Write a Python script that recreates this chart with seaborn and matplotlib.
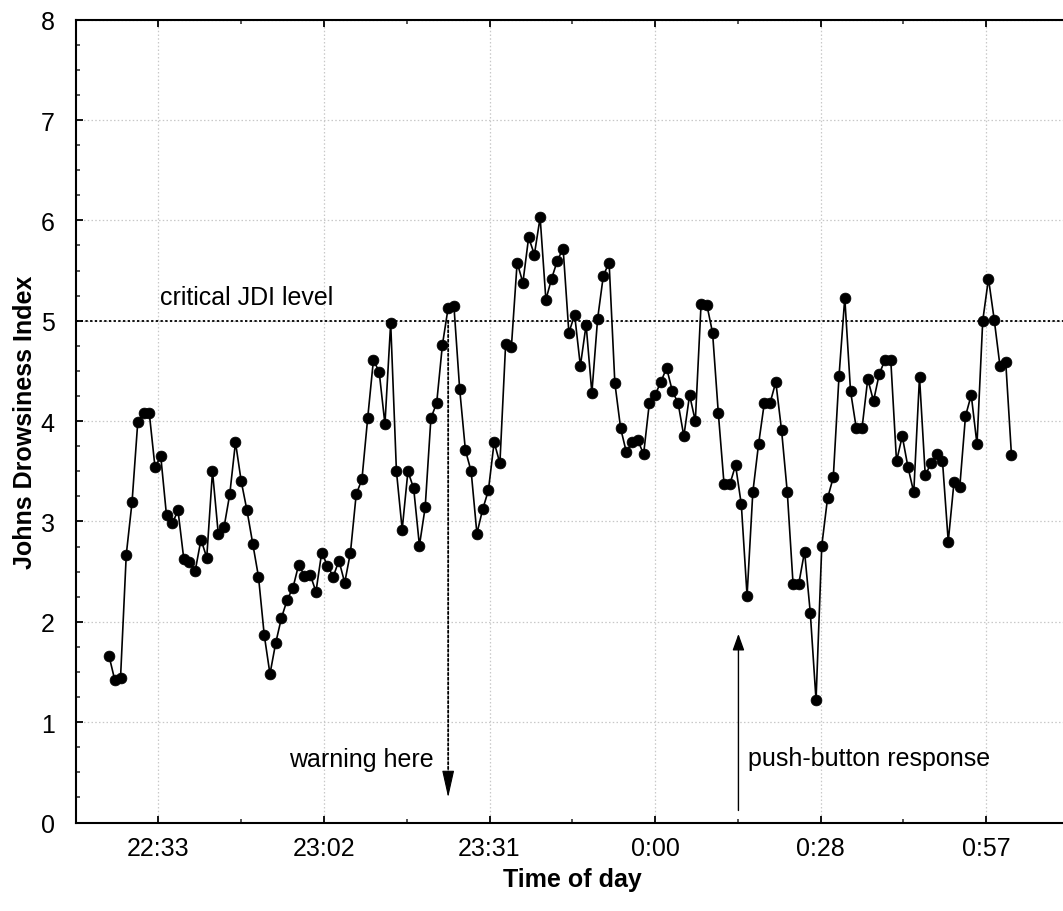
import numpy as np
import pandas as pd
import matplotlib
matplotlib.use("Agg")
import matplotlib.pyplot as plt
from matplotlib.ticker import FixedLocator, MultipleLocator
import seaborn as sns

# ---- data ----
start_minute = 1345          # 22:25, one sample per minute
jdi_values = [
    1.66, 1.42, 1.44, 2.67, 3.19, 3.99, 4.08, 4.08, 3.54, 3.65,
    3.06, 2.98, 3.11, 2.63, 2.60, 2.51, 2.82, 2.64, 3.50, 2.88,
    2.94, 3.27, 3.79, 3.40, 3.11, 2.78, 2.45, 1.87, 1.48, 1.79,
    2.04, 2.22, 2.34, 2.57, 2.46, 2.47, 2.30, 2.69, 2.56, 2.45,
    2.61, 2.39, 2.69, 3.27, 3.42, 4.03, 4.61, 4.49, 3.97, 4.98,
    3.50, 2.92, 3.50, 3.33, 2.76, 3.14, 4.03, 4.18, 4.76, 5.13,
    5.15, 4.32, 3.71, 3.50, 2.88, 3.12, 3.31, 3.79, 3.58, 4.77,
    4.74, 5.58, 5.38, 5.83, 5.66, 6.03, 5.21, 5.42, 5.60, 5.72,
    4.88, 5.06, 4.55, 4.96, 4.28, 5.02, 5.45, 5.58, 4.38, 3.93,
    3.69, 3.79, 3.81, 3.67, 4.18, 4.26, 4.39, 4.53, 4.30, 4.18,
    3.85, 4.26, 4.00, 5.17, 5.16, 4.88, 4.08, 3.37, 3.37, 3.56,
    3.17, 2.26, 3.29, 3.77, 4.18, 4.18, 4.39, 3.91, 3.29, 2.38,
    2.38, 2.70, 2.09, 1.22, 2.76, 3.23, 3.44, 4.45, 5.23, 4.30,
    3.93, 3.93, 4.42, 4.20, 4.47, 4.61, 4.61, 3.60, 3.85, 3.54,
    3.29, 4.44, 3.46, 3.58, 3.67, 3.60, 2.80, 3.39, 3.34, 4.05,
    4.26, 3.77, 5.00, 5.42, 5.01, 4.55, 4.59, 3.66,
]
tick_positions = [0.94, 0.96, 0.98, 1.00, 1.02, 1.04]   # fraction of a day
tick_labels = ["22:33", "23:02", "23:31", "0:00", "0:28", "0:57"]
critical_level = 5.0
warning_minute = 1404
push_minute = 1454.5

minutes = start_minute + np.arange(len(jdi_values))
df = pd.DataFrame({"day": minutes / 1440.0, "jdi": jdi_values})

# ---- style ----
sns.set_style("white")
plt.rcParams["font.family"] = ["Liberation Sans", "DejaVu Sans"]
plt.rcParams["text.color"] = "black"
plt.rcParams["axes.labelcolor"] = "black"
FS = 18

fig = plt.figure(figsize=(10.63, 9.12), dpi=100)
ax = fig.add_axes([0.0712, 0.097, 0.9344, 0.8803])

sns.lineplot(data=df, x="day", y="jdi", ax=ax, color="black", linewidth=1.2,
             marker="o", markersize=7.8, markeredgecolor="black",
             markerfacecolor="black", markeredgewidth=0.5)

ax.set_xlim(0.93, 1.05)
ax.set_ylim(0, 8)
ax.xaxis.set_major_locator(FixedLocator(tick_positions))
ax.set_xticklabels(tick_labels)
ax.xaxis.set_minor_locator(MultipleLocator(0.01))
ax.yaxis.set_major_locator(MultipleLocator(1))
ax.yaxis.set_minor_locator(MultipleLocator(0.25))

ax.grid(True, which="major", color="#c8c8c8", linestyle=(0, (1.2, 1.8)), linewidth=0.9)
ax.set_axisbelow(True)

for side in ["left", "bottom", "top"]:
    ax.spines[side].set_linewidth(1.5)
    ax.spines[side].set_color("black")
ax.spines["right"].set_visible(False)

ax.tick_params(axis="both", which="major", direction="in", length=5, width=1.3,
               labelsize=FS, colors="black", labelcolor="black")
ax.tick_params(axis="both", which="minor", direction="in", length=3, width=1.1)
ax.tick_params(axis="x", which="both", top=True, bottom=True, pad=10)
ax.tick_params(axis="y", which="both", left=True, right=False, pad=15)

ax.set_xlabel("Time of day", fontsize=FS, fontweight="bold", labelpad=5)
ax.set_ylabel("Johns Drowsiness Index", fontsize=FS, fontweight="bold", labelpad=3)

# critical level
ax.axhline(critical_level, color="black", linestyle=(0, (1.3, 1.3)), linewidth=1.3, zorder=1)
ax.text(0.9402, 5.17, "critical JDI level", fontsize=FS, ha="left", va="baseline")

# warning arrow (dotted shaft + filled head)
wx = warning_minute / 1440.0
ax.annotate("", xy=(wx, 0.45), xytext=(wx, critical_level),
            arrowprops=dict(arrowstyle="-", linestyle=(0, (1.3, 1.3)),
                            color="black", lw=1.3, shrinkA=0, shrinkB=0))
ax.annotate("", xy=(wx, 0.25), xytext=(wx, 0.5),
            arrowprops=dict(arrowstyle="-|>,head_length=1.7,head_width=0.38",
                            color="black", lw=0.8, shrinkA=0, shrinkB=0))
ax.text(0.9732, 0.56, "warning here", fontsize=FS, ha="right", va="baseline")

# push-button arrow (solid)
px = push_minute / 1440.0
ax.annotate("", xy=(px, 1.88), xytext=(px, 0.12),
            arrowprops=dict(arrowstyle="-|>,head_length=1.0,head_width=0.36",
                            color="black", lw=1.0, shrinkA=0, shrinkB=0))
ax.text(1.0112, 0.57, "push-button response", fontsize=FS, ha="left", va="baseline")

fig.savefig("out.png", dpi=100)
